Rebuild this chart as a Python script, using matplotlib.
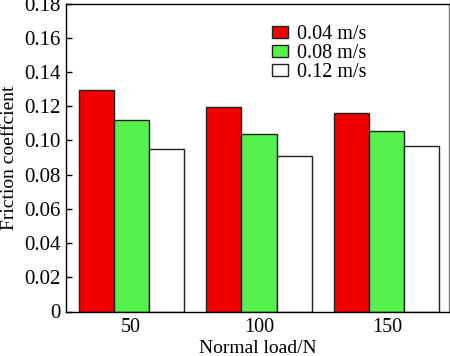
import numpy as np
import matplotlib.pyplot as plt
from matplotlib.patches import Patch

# data
loads = ["50", "100", "150"]
speeds = ["0.04 m/s", "0.08 m/s", "0.12 m/s"]
v004 = [0.1295, 0.1195, 0.116]
v008 = [0.112, 0.1035, 0.1055]
v012 = [0.095, 0.091, 0.097]
colors = ["#f00000", "#55f24d", "white"]

plt.rcParams["font.family"] = ["Liberation Serif", "DejaVu Serif"]
plt.rcParams["font.size"] = 14

fig = plt.figure(figsize=(4.5, 3.56), dpi=100)
ax = fig.add_axes([0.1467, 0.125, 0.852, 0.865])

x = np.arange(len(loads))
w = 0.274
for i, (vals, c) in enumerate(zip([v004, v008, v012], colors)):
    ax.bar(x + (i - 1) * w, vals, width=w, color=c, edgecolor="#222222",
           linewidth=1.0, label=speeds[i])

ax.set_xlim(-0.51, 2.49)
ax.set_ylim(0, 0.18)
ax.set_xticks(x)
ax.set_xticklabels(loads, fontsize=14.5)
ax.set_yticks(np.arange(0, 0.181, 0.02))
ax.set_yticklabels(["0"] + [f"{v:.2f}" for v in np.arange(0.02, 0.181, 0.02)],
                   fontsize=15)
ax.tick_params(axis="y", direction="in", length=4, width=1, pad=4)
ax.tick_params(axis="x", length=0, pad=5)
for s in ax.spines.values():
    s.set_linewidth(1.0)
ax.spines["right"].set_color("#777777")

ax.set_xlabel("Normal load/N", labelpad=2)
ax.set_ylabel("Friction coeffcient", labelpad=4)

handles = [Patch(facecolor=c, edgecolor="#222222", linewidth=1.0) for c in colors]
ax.legend(handles, speeds, loc="upper left", bbox_to_anchor=(0.538, 0.93),
          frameon=False, handlelength=0.8, handleheight=0.5, handletextpad=0.45,
          labelspacing=0.0, borderaxespad=0, borderpad=0, fontsize=14.5)

fig.savefig("out.png", dpi=100)
